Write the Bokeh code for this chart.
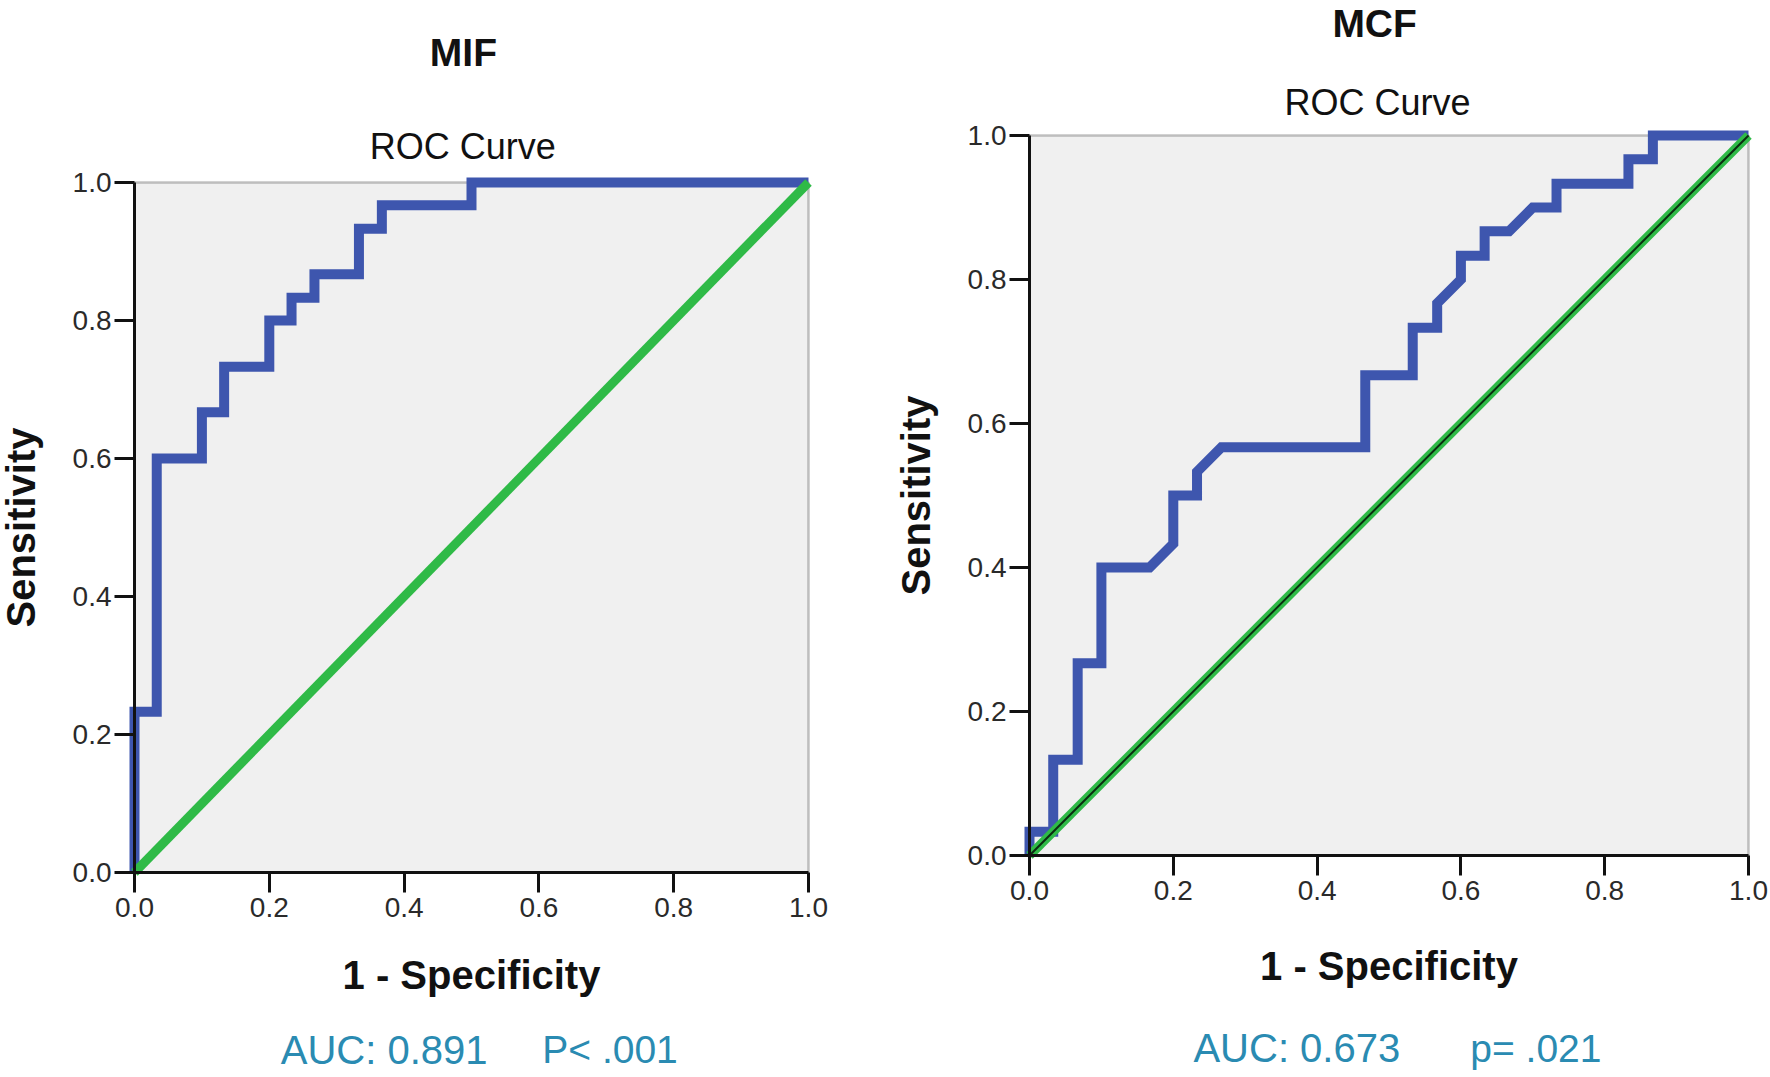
from bokeh.plotting import figure
from bokeh.models import Label, Range1d, FixedTicker, BoxAnnotation
from bokeh.layouts import row
from bokeh.embed import file_html
from bokeh.resources import INLINE

# ---------------- data ----------------
tick_values = [0.0, 0.2, 0.4, 0.6, 0.8, 1.0]
tick_labels = ["0.0", "0.2", "0.4", "0.6", "0.8", "1.0"]

mif_fpr = [0.0, 0.0, 0.033, 0.033, 0.1, 0.1, 0.133, 0.133, 0.2, 0.2, 0.233,
           0.233, 0.267, 0.267, 0.333, 0.333, 0.367, 0.367, 0.5, 0.5, 1.0]
mif_tpr = [0.0, 0.233, 0.233, 0.6, 0.6, 0.667, 0.667, 0.733, 0.733, 0.8, 0.8,
           0.833, 0.833, 0.867, 0.867, 0.933, 0.933, 0.967, 0.967, 1.0, 1.0]

mcf_fpr = [0.0, 0.0, 0.033, 0.033, 0.067, 0.067, 0.1, 0.1, 0.167, 0.2, 0.2,
           0.233, 0.233, 0.267, 0.467, 0.467, 0.533, 0.533, 0.567, 0.567, 0.6,
           0.6, 0.633, 0.633, 0.667, 0.7, 0.733, 0.733, 0.833, 0.833, 0.867,
           0.867, 1.0]
mcf_tpr = [0.0, 0.033, 0.033, 0.133, 0.133, 0.267, 0.267, 0.4, 0.4, 0.433, 0.5,
           0.5, 0.533, 0.567, 0.567, 0.667, 0.667, 0.733, 0.733, 0.767, 0.8,
           0.833, 0.833, 0.867, 0.867, 0.9, 0.9, 0.933, 0.933, 0.967, 0.967,
           1.0, 1.0]

ref_x = [0.0, 1.0]
ref_y = [0.0, 1.0]

panel_titles = ["MIF", "MCF"]
chart_title = "ROC Curve"
x_label = "1 - Specificity"
y_label = "Sensitivity"
auc_texts = ["AUC: 0.891", "AUC: 0.673"]
p_texts = ["P< .001", "p= .021"]

FONT = "Liberation Sans"
BLUE = "#3e56ae"
GREEN = "#2fba47"
TEAL = "#2a8bb2"
H = 1075


def make_panel(fpr, tpr, title, auc, ptxt, cw, fl, fr, ft, fb,
               title_pos, roc_pos, auc_pos, p_pos, xstand, ystand, core):
    """cw: canvas width; fl/fr/ft/fb: pixel edges of the 0..1 plot box."""
    sx = fr - fl
    sy = fb - ft
    xr = Range1d(-fl / sx, (cw - fl) / sx)
    yr = Range1d(-(H - fb) / sy, 1 + ft / sy)
    p = figure(frame_width=cw, frame_height=H, x_range=xr, y_range=yr,
               output_backend="svg", toolbar_location=None,
               min_border_left=0, min_border_right=0,
               min_border_top=0, min_border_bottom=0)
    p.background_fill_color = "white"
    p.border_fill_color = "white"
    p.outline_line_color = None
    p.grid.visible = False

    p.add_layout(BoxAnnotation(left=0, right=1, bottom=0, top=1,
                               fill_color="#f0f0f0", fill_alpha=1,
                               line_color="#3c3c3c", line_width=2.5,
                               level="underlay"))

    for ax, stand in ((p.xaxis, xstand), (p.yaxis, ystand)):
        ax.fixed_location = 0
        ax.bounds = (0, 1)
        ax.ticker = FixedTicker(ticks=tick_values)
        ax.major_label_overrides = {v: l for v, l in zip(tick_values, tick_labels)}
        ax.minor_tick_line_color = None
        ax.major_tick_in = 0
        ax.major_tick_out = 20
        ax.major_tick_line_width = 3
        ax.major_tick_line_color = "#111111"
        ax.axis_line_width = 3
        ax.axis_line_color = "#111111"
        ax.major_label_text_font = FONT
        ax.major_label_text_font_size = "28px"
        ax.major_label_text_color = "#2a2a2a"
        ax.axis_label_text_font = FONT
        ax.axis_label_text_font_style = "bold"
        ax.axis_label_text_font_size = "40px"
        ax.axis_label_text_color = "#111111"
        ax.axis_label_standoff = stand
    p.xaxis.major_label_standoff = 5
    p.yaxis.major_label_standoff = 3
    p.xaxis.axis_label = x_label
    p.yaxis.axis_label = y_label

    p.line(fpr, tpr, line_color=BLUE, line_width=10, line_join="miter")
    p.line(ref_x, ref_y, line_color=GREEN, line_width=9)
    if core:
        p.line(ref_x, ref_y, line_color="#0b2a10", line_width=2)

    p.add_layout(Label(x=title_pos[0], y=title_pos[1], text=title,
                       text_font=FONT, text_font_style="bold",
                       text_font_size="39px", text_align="center",
                       text_baseline="alphabetic", text_color="#111111"))
    p.add_layout(Label(x=roc_pos[0], y=roc_pos[1], text=chart_title,
                       text_font=FONT, text_font_size="36px",
                       text_align="center", text_baseline="alphabetic",
                       text_color="#111111"))
    p.add_layout(Label(x=auc_pos[0], y=auc_pos[1], text=auc,
                       text_font=FONT, text_font_size="40px",
                       text_align="left", text_baseline="alphabetic",
                       text_color=TEAL))
    p.add_layout(Label(x=p_pos[0], y=p_pos[1], text=ptxt,
                       text_font=FONT, text_font_size="39px",
                       text_align="left", text_baseline="alphabetic",
                       text_color=TEAL))
    return p


p1 = make_panel(mif_fpr, mif_tpr, panel_titles[0], auc_texts[0], p_texts[0],
                880, 134, 808, 182, 872,
                (0.488, 1.188), (0.487, 1.052), (0.217, -0.257), (0.605, -0.257),
                33, 27, False)
p2 = make_panel(mcf_fpr, mcf_tpr, panel_titles[1], auc_texts[1], p_texts[1],
                888, 149, 868, 135, 855,
                (0.480, 1.155), (0.484, 1.046), (0.228, -0.268), (0.613, -0.268),
                41, 27, True)

layout = row(p1, p2)
open("out.html", "w").write(file_html(layout, INLINE))
